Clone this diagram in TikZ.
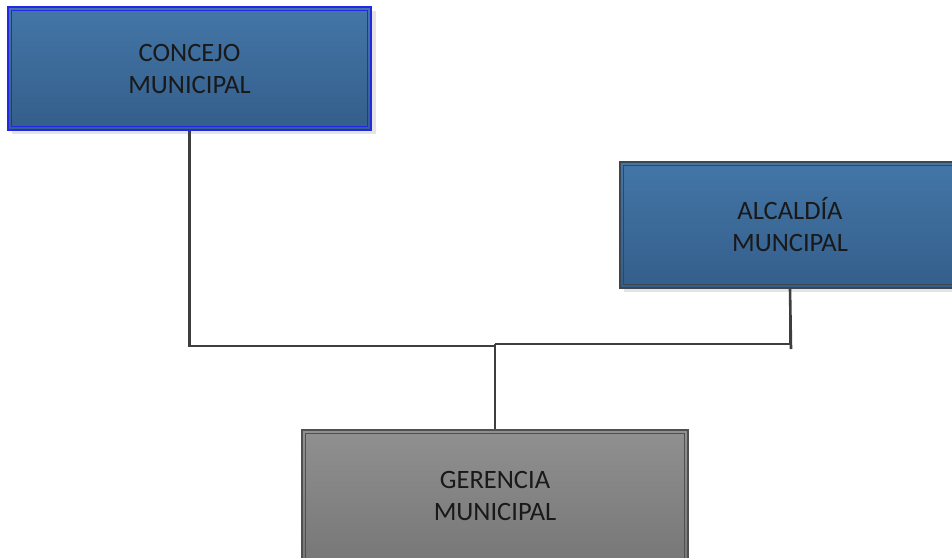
\documentclass[tikz,border=0pt]{standalone}
\usepackage{fontspec}
\setmainfont{Carlito}
\begin{document}
\begin{tikzpicture}[x=1pt,y=-1pt,
  boxbase/.style={rectangle,align=center,inner sep=0pt,line width=1.6pt,
    font=\fontsize{26.5}{32}\selectfont,text=black!90},
  bluebox/.style={boxbase,top color=boxtop,bottom color=boxbot},
  graybox/.style={boxbase,top color=graytop,bottom color=graybot,draw=grayedge},
  innerline/.style={line width=0.8pt},
  conn/.style={draw=connc,line width=2.6pt}]
\definecolor{boxtop}{HTML}{4376A7}
\definecolor{boxbot}{HTML}{345E8B}
\definecolor{graytop}{HTML}{909090}
\definecolor{graybot}{HTML}{777777}
\definecolor{grayedge}{HTML}{505050}
\definecolor{darkedge}{HTML}{3C4550}
\definecolor{blueedge}{HTML}{2228E6}
\definecolor{connc}{HTML}{3E3E3E}
\definecolor{shadowc}{HTML}{E4E4E4}
\useasboundingbox (0,0) rectangle (952,557);
% shadows
\fill[shadowc] (12,11) rectangle (376,134);
\fill[shadowc] (624,166) rectangle (960,292);
% boxes
\node[bluebox,draw=blueedge,minimum width=363pt,minimum height=123pt] (c) at (189.5,68.5) {CONCEJO\\MUNICIPAL};
\draw[blueedge,innerline] ([shift={(4pt,-4pt)}]c.north west) rectangle ([shift={(-4pt,4pt)}]c.south east);
\node[bluebox,draw=darkedge,minimum width=340pt,minimum height=126pt] (a) at (790,225) {ALCALD\'IA\\MUNCIPAL};
\draw[darkedge,innerline] ([shift={(4pt,-4pt)}]a.north west) rectangle ([shift={(-4pt,4pt)}]a.south east);
\node[graybox,minimum width=386pt,minimum height=132pt] (g) at (495,496) {GERENCIA\\MUNICIPAL};
\draw[grayedge,innerline] ([shift={(4pt,-4pt)}]g.north west) rectangle ([shift={(-4pt,4pt)}]g.south east);
% connectors
\coordinate (jl) at (495,346);
\coordinate (jr) at (495,344);
\coordinate (stub) at (791,349);
\draw[conn] (c.south) |- (jl);
\draw[conn] (a.south) -- (stub);
\draw[conn] (jr) -| (a.south);
\draw[conn] (jr) -- (g.north);
\end{tikzpicture}
\end{document}
